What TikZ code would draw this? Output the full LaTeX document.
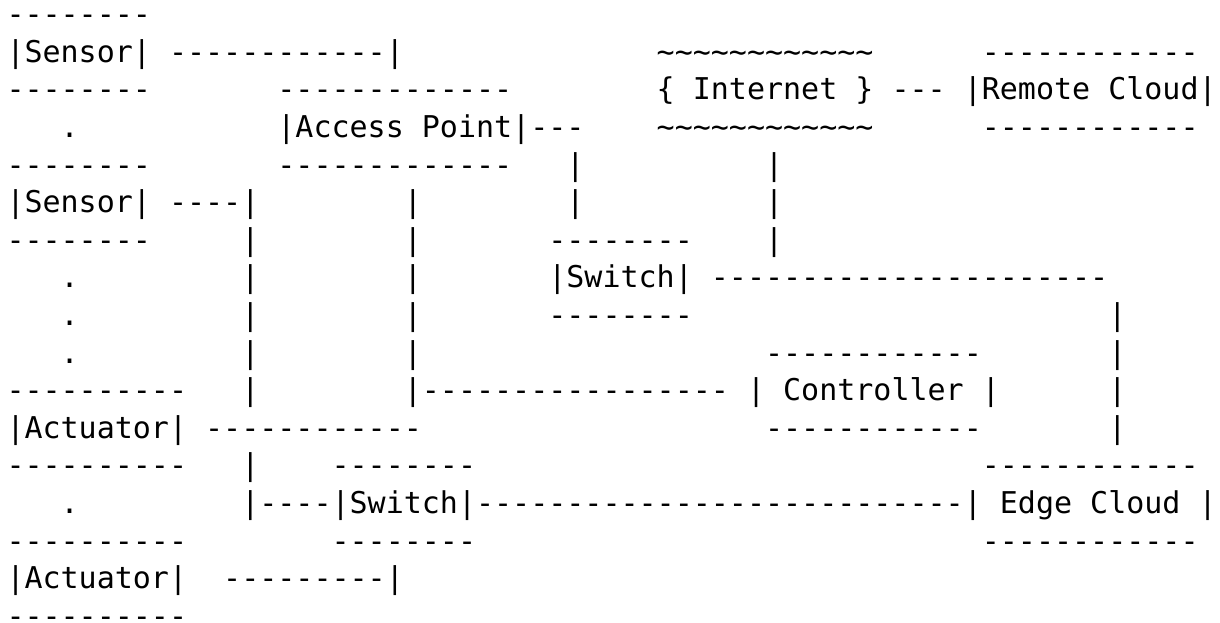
\documentclass[tikz,border=0pt]{standalone}
\usepackage{fontspec}
\setmonofont{DejaVu Sans Mono}
\newcommand{\wave}{\detokenize{~~~~~~~~~~~~}}
\tikzset{ascii/.style={anchor=base west,inner sep=0pt,outer sep=0pt,
  font=\ttfamily\fontsize{15pt}{18pt}\selectfont}}
\begin{document}
\begin{tikzpicture}[x=9.0308pt,y=-18.8pt]
\useasboundingbox (-3.25pt,12.3pt) rectangle (606.75pt,-298.7pt);

% sensors
\node[ascii] (sA1) at (0,0) {--------};
\node[ascii] (sA) at (0,1) {|Sensor|};
\node[ascii] (sAlink) at (9,1) {------------|};
\node[ascii] (sA2) at (0,2) {--------};
\node[ascii] (dotA) at (3,3) {.};
\node[ascii] (sB1) at (0,4) {--------};
\node[ascii] (sB) at (0,5) {|Sensor|};
\node[ascii] (sBlink) at (9,5) {----|};
\node[ascii] (sB2) at (0,6) {--------};
\node[ascii] (dotB) at (3,7) {.};
\node[ascii] (dotC) at (3,8) {.};
\node[ascii] (dotD) at (3,9) {.};

% actuators
\node[ascii] (aA1) at (0,10) {----------};
\node[ascii] (aA) at (0,11) {|Actuator|};
\node[ascii] (aAlink) at (11,11) {------------};
\node[ascii] (aA2) at (0,12) {----------};
\node[ascii] (dotE) at (3,13) {.};
\node[ascii] (aB1) at (0,14) {----------};
\node[ascii] (aB) at (0,15) {|Actuator|};
\node[ascii] (aBlink) at (12,15) {---------|};
\node[ascii] (aB2) at (0,16) {----------};

\node[ascii] (barA6) at (13,6) {|};
\node[ascii] (barA7) at (13,7) {|};
\node[ascii] (barA8) at (13,8) {|};
\node[ascii] (barA9) at (13,9) {|};
\node[ascii] (barA10) at (13,10) {|};
\node[ascii] (barA12) at (13,12) {|};
\node[ascii] (barB5) at (22,5) {|};
\node[ascii] (barB6) at (22,6) {|};
\node[ascii] (barB7) at (22,7) {|};
\node[ascii] (barB8) at (22,8) {|};
\node[ascii] (barB9) at (22,9) {|};

% access point
\node[ascii] (ap1) at (15,2) {-------------};
\node[ascii] (ap) at (15,3) {|Access Point|};
\node[ascii] (aplink) at (29,3) {---};
\node[ascii] (ap2) at (15,4) {-------------};
\node[ascii] (barC4) at (31,4) {|};
\node[ascii] (barC5) at (31,5) {|};

% internet and remote cloud
\node[ascii] (net1) at (36,1) {\wave};
\node[ascii] (net) at (36,2) {\{ Internet \}};
\node[ascii] (netlink) at (49,2) {---};
\node[ascii] (net2) at (36,3) {\wave};
\node[ascii] (barD4) at (42,4) {|};
\node[ascii] (barD5) at (42,5) {|};
\node[ascii] (barD6) at (42,6) {|};
\node[ascii] (rc1) at (54,1) {------------};
\node[ascii] (rc) at (53,2) {|Remote Cloud|};
\node[ascii] (rc2) at (54,3) {------------};

% upper switch
\node[ascii] (swA1) at (30,6) {--------};
\node[ascii] (swA) at (30,7) {|Switch|};
\node[ascii] (swAlink) at (39,7) {----------------------};
\node[ascii] (swA2) at (30,8) {--------};
\node[ascii] (barE8) at (61,8) {|};
\node[ascii] (barE9) at (61,9) {|};
\node[ascii] (barE10) at (61,10) {|};
\node[ascii] (barE11) at (61,11) {|};

% controller
\node[ascii] (ct1) at (42,9) {------------};
\node[ascii] (ctlink) at (22,10) {|-----------------};
\node[ascii] (ct) at (41,10) {| Controller |};
\node[ascii] (ct2) at (42,11) {------------};

% lower switch and edge cloud
\node[ascii] (swB1) at (18,12) {--------};
\node[ascii] (swBlinkL) at (13,13) {|----};
\node[ascii] (swB) at (18,13) {|Switch|};
\node[ascii] (swBlinkR) at (26,13) {---------------------------};
\node[ascii] (swB2) at (18,14) {--------};
\node[ascii] (ec1) at (54,12) {------------};
\node[ascii] (ec) at (53,13) {| Edge Cloud |};
\node[ascii] (ec2) at (54,14) {------------};
\end{tikzpicture}
\end{document}
